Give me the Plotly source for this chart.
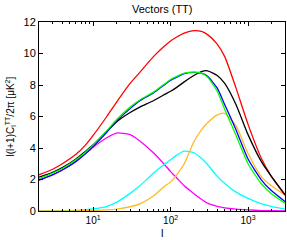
import numpy as np
import plotly.graph_objects as go

ell = [2, 3, 4, 6, 8, 10, 15, 20, 30, 40, 60, 80, 100, 120, 150, 200, 250, 300, 400, 500, 700, 1000, 1500, 2000, 3000]

red = [2.3, 2.65, 3.0, 3.6, 4.2, 4.8, 6.0, 6.9, 8.1, 8.8, 9.8, 10.4, 10.8, 11.05, 11.3, 11.45, 11.4, 11.2, 10.6, 9.8, 7.8, 5.5, 3.3, 2.2, 1.0]
black = [2.15, 2.45, 2.75, 3.3, 3.8, 4.2, 5.05, 5.65, 6.25, 6.6, 7.0, 7.35, 7.6, 7.85, 8.2, 8.6, 8.85, 8.9, 8.6, 8.1, 6.75, 4.85, 3.1, 2.2, 1.05]
blue = [1.97, 2.3, 2.6, 3.15, 3.65, 4.1, 5.0, 5.7, 6.5, 7.0, 7.5, 7.95, 8.3, 8.5, 8.72, 8.8, 8.75, 8.55, 7.8, 6.75, 5.15, 3.3, 1.95, 1.3, 0.6]
green = [2.05, 2.4, 2.7, 3.25, 3.75, 4.2, 5.1, 5.8, 6.6, 7.05, 7.55, 8.0, 8.35, 8.55, 8.75, 8.82, 8.75, 8.5, 7.6, 6.45, 4.8, 3.0, 1.7, 1.1, 0.5]
magenta = [1.95, 2.3, 2.6, 3.15, 3.65, 4.05, 4.65, 4.95, 4.85, 4.45, 3.7, 3.05, 2.5, 2.1, 1.6, 1.1, 0.75, 0.5, 0.3, 0.2, 0.12, 0.07, 0.03, 0.02, 0.01]
cyan = [0.0, 0.01, 0.02, 0.04, 0.08, 0.13, 0.3, 0.55, 1.12, 1.6, 2.4, 2.9, 3.25, 3.55, 3.8, 3.7, 3.35, 2.95, 2.2, 1.75, 1.2, 0.8, 0.45, 0.3, 0.12]
orange = [0.0, 0.0, 0.005, 0.01, 0.02, 0.03, 0.07, 0.12, 0.27, 0.45, 0.95, 1.5, 1.85, 2.3, 3.0, 4.4, 5.15, 5.6, 6.1, 6.2, 5.4, 3.65, 2.15, 1.6, 1.02]

series = [
    (magenta, "#ff00ff"),
    (cyan, "#00ffff"),
    (orange, "#ffbb22"),
    (red, "#ff0000"),
    (black, "#000000"),
    (blue, "#0000ff"),
    (green, "#00ff00"),
]

fig = go.Figure()
for vals, col in series:
    fig.add_trace(go.Scatter(x=ell, y=vals, mode="lines",
                             line=dict(color=col, width=1.3, shape="spline", smoothing=0.6),
                             showlegend=False, hoverinfo="skip"))

font = dict(family="Liberation Sans, Arial, sans-serif", size=11, color="black")
fig.update_layout(
    width=287, height=240,
    margin=dict(l=39, r=2, t=22, b=29, autoexpand=False),
    paper_bgcolor="white", plot_bgcolor="white",
    font=font,
)
fig.update_xaxes(
    type="log", range=[np.log10(2), np.log10(3000)],
    tickvals=[10, 100, 1000], ticktext=["10<sup>1</sup>", "10<sup>2</sup>", "10<sup>3</sup>"],
    ticks="inside", ticklen=4, tickcolor="black", showline=True, linecolor="black", linewidth=1,
    mirror="ticks", showgrid=False, zeroline=False, automargin=False,
    minor=dict(ticks="inside", ticklen=2, tickcolor="black", dtick="D1", showgrid=False),
    tickfont=dict(size=10),
)
fig.update_yaxes(
    range=[0, 12], tickvals=[0, 2, 4, 6, 8, 10, 12],
    ticks="inside", ticklen=4, tickcolor="black", showline=True, linecolor="black", linewidth=1,
    mirror="ticks", showgrid=False, zeroline=False, automargin=False,
    tickfont=dict(size=11),
)
fig.add_annotation(text="Vectors (TT)", xref="paper", yref="paper", x=0.5, y=1.0, yshift=13,
                   showarrow=False, font=dict(size=11), xanchor="center", yanchor="middle")
fig.add_annotation(text="l", xref="paper", yref="paper", x=0.5, y=0, yshift=-22,
                   showarrow=False, font=dict(size=11), xanchor="center", yanchor="middle")
fig.add_annotation(text="l(l+1)C<sub>l</sub><sup>TT</sup>/2π [μK<sup>2</sup>]", xref="paper", yref="paper",
                   x=0, xshift=-29, y=0.5, textangle=-90,
                   showarrow=False, font=dict(size=10), xanchor="center", yanchor="middle")
fig.write_html("out.html", config={"responsive": False, "displayModeBar": False},
               post_script="document.body.style.margin='0';document.body.style.overflow='hidden';")
